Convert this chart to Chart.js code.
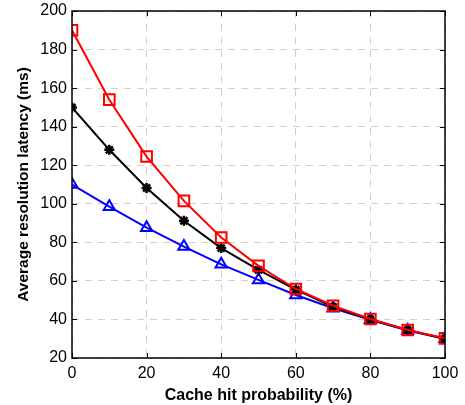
<!DOCTYPE html>
<html>
<head>
<meta charset="utf-8">
<script src="https://cdn.jsdelivr.net/npm/chart.js@4/dist/chart.umd.min.js"></script>
<style>
html,body{margin:0;padding:0;background:#fff;}
#wrap{width:465px;height:405px;position:relative;}
</style>
</head>
<body>
<div id="wrap"><canvas id="c" width="465" height="405"></canvas></div>
<script>
// ===== data =====
const HIT = [0,10,20,30,40,50,60,70,80,90,100];
const RED = [190,154,124.5,101.5,82.5,67.8,55.8,47.1,40.2,34.5,30.2];
const BLACK = [150,128,108.2,91.2,77,65.7,55.5,46.5,40,34.5,30];
const BLUE = [110,98.5,87.6,77.8,68.6,60.5,52.7,45.8,39.8,34.3,30];
const XTICKS = [0,20,40,60,80,100];
const YTICKS = [20,40,60,80,100,120,140,160,180,200];

const FONT = "'Liberation Sans', Arial, sans-serif";
Chart.defaults.font.family = FONT;
Chart.defaults.color = '#000';

function pts(ys){ return HIT.map((x,i)=>({x:x,y:ys[i]})); }

// inside tick marks + box, matlab style
const boxTicks = {
  id:'boxTicks',
  afterDatasetsDraw(chart){
    const {ctx, chartArea:a, scales:{x,y}} = chart;
    ctx.save();
    ctx.strokeStyle='#000'; ctx.lineWidth=1;
    ctx.beginPath();
    XTICKS.forEach(v=>{const p=Math.round(x.getPixelForValue(v))+0.5;
      ctx.moveTo(p,a.bottom); ctx.lineTo(p,a.bottom-5);
      ctx.moveTo(p,a.top); ctx.lineTo(p,a.top+5);});
    YTICKS.forEach(v=>{const p=Math.round(y.getPixelForValue(v))+0.5;
      ctx.moveTo(a.left,p); ctx.lineTo(a.left+5,p);
      ctx.moveTo(a.right,p); ctx.lineTo(a.right-5,p);});
    ctx.stroke();
    ctx.lineWidth=1.5;
    ctx.strokeRect(a.left, a.top, a.right-a.left, a.bottom-a.top);
    ctx.restore();
  }
};

new Chart(document.getElementById('c'),{
  type:'line',
  data:{datasets:[
    {data:pts(RED),borderColor:'#ff0000',backgroundColor:'rgba(0,0,0,0)',borderWidth:2,
      pointStyle:'rect',pointRadius:7.5,pointBorderWidth:2,pointBorderColor:'#ff0000',pointBackgroundColor:'rgba(0,0,0,0)',tension:0},
    {data:pts(BLACK),borderColor:'#000',backgroundColor:'rgba(0,0,0,0)',borderWidth:2,
      pointStyle:'star',pointRadius:5,pointBorderWidth:2.5,pointBorderColor:'#000',tension:0},
    {data:pts(BLUE),borderColor:'#0000ff',backgroundColor:'rgba(0,0,0,0)',borderWidth:2,
      pointStyle:'triangle',pointRadius:6.5,pointBorderWidth:2,pointBorderColor:'#0000ff',pointBackgroundColor:'rgba(0,0,0,0)',tension:0}
  ]},
  options:{
    responsive:false,animation:false,
    layout:{padding:{left:14,right:20,top:11,bottom:0}},
    plugins:{legend:{display:false},tooltip:{enabled:false}},
    scales:{
      x:{type:'linear',min:0,max:100,
        afterBuildTicks:s=>{s.ticks=XTICKS.map(v=>({value:v}));},
        afterFit:s=>{s.height=47;},
        grid:{color:'#d0d0d0',lineWidth:1,drawTicks:false},
        border:{display:false,dash:[7,6]},
        ticks:{padding:6,font:{size:16},color:'#000',maxRotation:0},
        title:{display:true,text:'Cache hit probability (%)',font:{size:16,weight:'bold'},color:'#000',padding:{top:2,bottom:0}}
      },
      y:{type:'linear',min:20,max:200,
        afterBuildTicks:s=>{s.ticks=YTICKS.map(v=>({value:v}));},
        afterFit:s=>{s.width=58;s.paddingTop=0;s.paddingBottom=0;},
        grid:{color:'#d0d0d0',lineWidth:1,drawTicks:false},
        border:{display:false,dash:[7,6]},
        ticks:{padding:5,font:{size:16},color:'#000'},
        title:{display:true,text:'Average resolution latency (ms)',font:{size:15.5,weight:'bold'},color:'#000',padding:{top:0,bottom:2}}
      }
    }
  },
  plugins:[boxTicks]
});
</script>
</body>
</html>
